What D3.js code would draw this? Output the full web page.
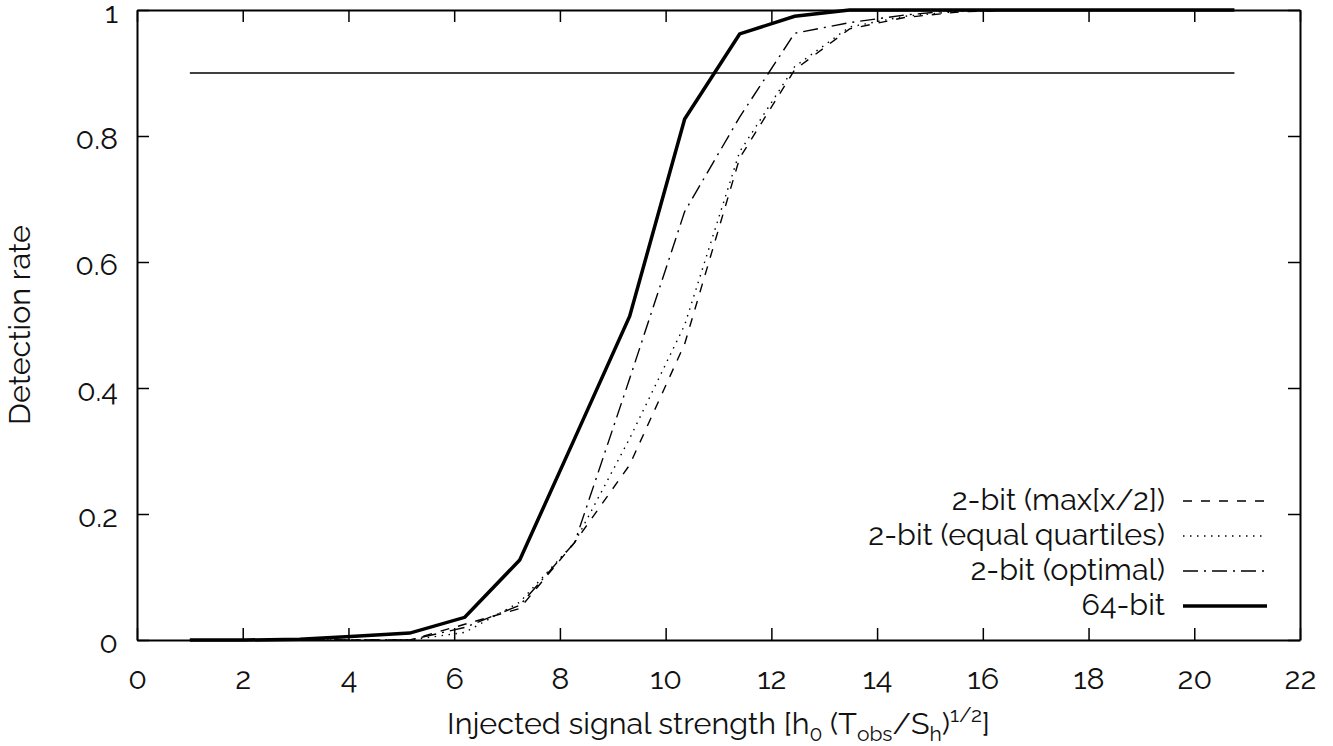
<!DOCTYPE html>
<html>
<head>
<meta charset="utf-8">
<script src="https://cdn.jsdelivr.net/npm/d3@7"></script>
<style>
  body { margin: 0; background: #fff; }
  svg text { font-family: Raleway, Lato, "Open Sans", sans-serif; fill: #111; }
  .axis path, .axis line { stroke: #000; }
</style>
</head>
<body>
<svg id="chart"></svg>
<script>
// x positions of the injected signals
var strength = [1, 2.04, 3.08, 4.12, 5.16, 6.2, 7.24, 8.28, 9.32, 10.36, 11.4, 12.44, 13.48, 14.52, 15.56, 16.6, 17.64, 18.68, 19.72, 20.76]

var maxHalf   = [0, 0, 0, 0, 0, 0.025, 0.05, 0.155, 0.278, 0.47, 0.765, 0.905, 0.97, 0.988, 0.997, 1, 1, 1, 1, 1]
var quartiles = [0, 0, 0, 0, 0, 0.012, 0.06, 0.155, 0.32, 0.5, 0.775, 0.91, 0.973, 0.99, 0.998, 1, 1, 1, 1, 1]
var optimal   = [0, 0, 0, 0, 0, 0.02, 0.055, 0.155, 0.415, 0.68, 0.83, 0.963, 0.98, 0.992, 1, 1, 1, 1, 1, 1]
var bit64     = [0, 0, 0.001, 0.006, 0.011, 0.036, 0.127, 0.32, 0.514, 0.827, 0.962, 0.99, 1, 1, 1, 1, 1, 1, 1, 1]

var threshold = 0.9

var seriesNames = ['2-bit (max[x/2])', '2-bit (equal quartiles)', '2-bit (optimal)', '64-bit']
var seriesData = [maxHalf, quartiles, optimal, bit64]
var dashes = ['9,9', '1.5,5.5', '15,6,2,6', null]
var widths = [1.4, 1.4, 1.4, 3.5]

var xTicks = [0, 2, 4, 6, 8, 10, 12, 14, 16, 18, 20, 22]
var yTicks = [0, 0.2, 0.4, 0.6, 0.8, 1]

var W = 1333, H = 746
var margin = {left: 137, right: 33, top: 10, bottom: 106}
var fs = '30.5px', fsSmall = '21px'

var svg = d3.select('#chart').attr('width', W).attr('height', H)

var x = d3.scaleLinear().domain([0, 22]).range([margin.left, W - margin.right])
var y = d3.scaleLinear().domain([0, 1]).range([H - margin.bottom, margin.top])

var fmtY = function (d) { return d === 0 || d === 1 ? String(d) : d.toFixed(1) }

// axes, ticks pointing inward on all four sides
svg.append('g').attr('class', 'axis').attr('transform', 'translate(0,' + y(0) + ')')
  .call(d3.axisBottom(x).tickValues(xTicks).tickSize(-12).tickSizeOuter(0).tickPadding(27))
svg.append('g').attr('class', 'axis').attr('transform', 'translate(0,' + y(1) + ')')
  .call(d3.axisTop(x).tickValues(xTicks).tickSize(-12).tickSizeOuter(0).tickFormat(''))
var yAxis = svg.append('g').attr('class', 'axis').attr('transform', 'translate(' + x(0) + ',0)')
  .call(d3.axisLeft(y).tickValues(yTicks).tickSize(-12).tickSizeOuter(0).tickPadding(19).tickFormat(fmtY))
yAxis.selectAll('text').attr('dy', '0.42em')
svg.append('g').attr('class', 'axis').attr('transform', 'translate(' + x(22) + ',0)')
  .call(d3.axisRight(y).tickValues(yTicks).tickSize(-12).tickSizeOuter(0).tickFormat(''))

svg.selectAll('.axis path').attr('stroke-width', 2)
svg.selectAll('.axis line').attr('stroke-width', 1.5)
svg.selectAll('.axis text').style('font-size', fs).attr('fill', '#111')

// threshold line
svg.append('line')
  .attr('x1', x(strength[0])).attr('x2', x(strength[strength.length - 1]))
  .attr('y1', y(threshold)).attr('y2', y(threshold))
  .attr('stroke', '#000').attr('stroke-width', 1.5)

var line = d3.line().x(function (d, i) { return x(strength[i]) }).y(function (d) { return y(d) })

seriesData.forEach(function (s, i) {
  svg.append('path').datum(s)
    .attr('d', line)
    .attr('fill', 'none')
    .attr('stroke', '#000')
    .attr('stroke-width', widths[i])
    .attr('stroke-dasharray', dashes[i])
    .attr('stroke-linejoin', 'miter')
})

// legend
var leg = svg.append('g')
var legY = [501, 536, 571, 606]
seriesNames.forEach(function (name, i) {
  leg.append('text').attr('x', 1165).attr('y', legY[i]).attr('dy', '0.3em')
    .attr('text-anchor', 'end').style('font-size', fs).text(name)
  leg.append('line').attr('x1', 1183).attr('x2', 1267).attr('y1', legY[i]).attr('y2', legY[i])
    .attr('stroke', '#000').attr('stroke-width', widths[i]).attr('stroke-dasharray', dashes[i])
})

// axis titles
svg.append('text')
  .attr('transform', 'translate(30,' + y(0.5) + ') rotate(-90)')
  .attr('text-anchor', 'middle').style('font-size', fs)
  .text('Detection rate')

var xl = svg.append('text').attr('x', (x(0) + x(22)) / 2).attr('y', 734)
  .attr('text-anchor', 'middle').style('font-size', fs)
xl.append('tspan').text('Injected signal strength [h')
xl.append('tspan').attr('dy', 7).style('font-size', fsSmall).text('0')
xl.append('tspan').attr('dy', -7).text(' (T')
xl.append('tspan').attr('dy', 7).style('font-size', fsSmall).text('obs')
xl.append('tspan').attr('dy', -7).text('/S')
xl.append('tspan').attr('dy', 7).style('font-size', fsSmall).text('h')
xl.append('tspan').attr('dy', -7).text(')')
xl.append('tspan').attr('dy', -12).style('font-size', fsSmall).text('1/2')
xl.append('tspan').attr('dy', 12).text(']')
</script>
</body>
</html>
